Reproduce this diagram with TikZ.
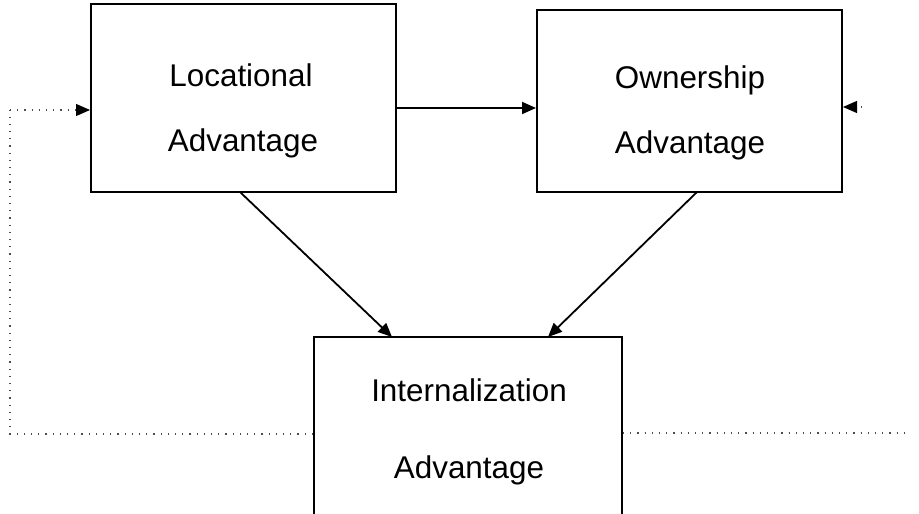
\documentclass[tikz,border=0pt]{standalone}
\usepackage{fontspec}
\setmainfont{Liberation Sans}
\usetikzlibrary{arrows.meta}
\begin{document}
\begin{tikzpicture}[x=0.5pt,y=-0.5pt,
  box/.style={draw=black,line width=1pt,inner sep=0pt,minimum width=152.5pt},
  lbl/.style={font=\fontsize{15.7}{18}\selectfont,inner sep=0pt,anchor=center},
  conn/.style={draw=black,line width=0.9pt,-{Triangle[length=7pt,width=6pt]}},
  dots/.style={draw=black!70,line width=0.6pt,dash pattern=on 0.6pt off 3pt},
  dotarr/.style={dots,-{Triangle[length=7pt,width=6pt,color=black,fill=black]}}]
\useasboundingbox (0,0) rectangle (919,513);
\clip (0,0) rectangle (919,513);
% boxes
\node[box,minimum height=94pt] (loc) at (243.5,98) {};
\node[box,minimum height=91pt] (own) at (689.5,101) {};
\node[box,minimum width=154pt,minimum height=105pt] (int) at (468,442) {};
% labels
\node[lbl] (loc1) at (241,75) {Locational};
\node[lbl] (loc2) at (243,143) {Advantage};
\node[lbl] (own1) at (690,80) {Ownership};
\node[lbl] (own2) at (690,145) {Advantage};
\node[lbl] (int1) at (469,390) {Internalization};
\node[lbl] (int2) at (469,470) {Advantage};
% solid arrows
\path[conn] (loc.east |- 0,108) -- (own.west |- 0,108);
\path[conn] (240,192) -- (392,337);
\path[conn] (697,192) -- (548,337);
% dotted feedback
\coordinate (lc) at (10,434);
\coordinate (lt) at (10,110);
\coordinate (rc) at (905,433);
\coordinate (rt) at (862,107);
\path[dots] (int.west |- lc) -- (lc) -- (lt);
\path[dotarr] (lt) -- (loc.west |- lt);
\path[dots] (int.east |- rc) -- (rc);
\path[dotarr] (rt) -- (own.east |- rt);
\end{tikzpicture}
\end{document}
